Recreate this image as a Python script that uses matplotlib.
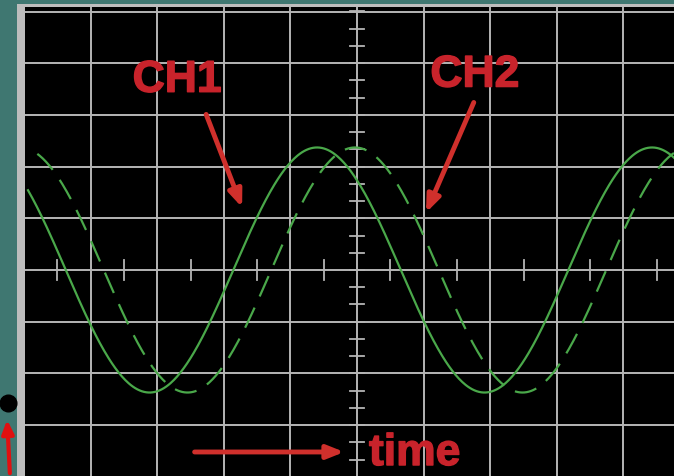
import numpy as np
import matplotlib.pyplot as plt
import matplotlib.patheffects as pe

# screen values, in scope divisions (center = 0,0)
ch1_peak_x = -0.60      # where CH1 (solid) peaks
ch2_peak_x = -0.03      # CH2 (dashed) lags CH1
period = 5.03
amplitude = 2.37
ch1_start = -4.94
ch2_start = -4.80

grid_x = [-4, -3, -2, -1, 0, 1, 2, 3, 4]
grid_y = [-3, -2, -1, 0, 1, 2, 3, 4, 5]

labels = ['CH1', 'CH2', 'time']

W, H = 674, 476
fig = plt.figure(figsize=(W / 100, H / 100), dpi=100)
fig.patch.set_facecolor('#3f7771')

# gray bezel strip at left and top
bez = fig.add_axes([17 / W, 0, 1 - 17 / W, 1 - 4 / H])
bez.set_facecolor('#bdbdbd')
bez.set_xticks([]); bez.set_yticks([])
for s in bez.spines.values():
    s.set_visible(False)

ax = fig.add_axes([25 / W, 0, (W - 25) / W, 1 - 7 / H])
ax.set_facecolor('black')
ax.set_xlim((25 - 357) / 66.6, (674 - 357) / 66.6)
ax.set_ylim((270 - 476) / 51.7, (270 - 7) / 51.7)
ax.set_xticks([]); ax.set_yticks([])
for s in ax.spines.values():
    s.set_visible(False)

gc = '#b5b5b5'
for gx in grid_x:
    ax.axvline(gx, color=gc, lw=1.4, zorder=1)
for gy in grid_y:
    ax.axhline(gy, color=gc, lw=1.4, zorder=1)

# minor ticks on the center cross
for t in np.arange(-4, 5.01, 1 / 3):
    ax.plot([-0.1, 0.1], [t, t], color=gc, lw=1.3, zorder=1)
for t in np.arange(-4.5, 5, 1.0):
    ax.plot([t, t], [-0.19, 0.19], color=gc, lw=1.3, zorder=1)

green = '#4aa84a'
x1 = np.linspace(ch1_start, 5, 600)
ax.plot(x1, amplitude * np.cos(2 * np.pi * (x1 - ch1_peak_x) / period),
        color=green, lw=1.6, zorder=3)
x2 = np.linspace(ch2_start, 5, 600)
ax.plot(x2, amplitude * np.cos(2 * np.pi * (x2 - ch2_peak_x) / period),
        color=green, lw=1.6, dashes=(10, 5.5), zorder=3)

red = '#c8232b'
tf = dict(color=red, fontsize=32, fontweight='bold', family='Liberation Sans', zorder=5,
          path_effects=[pe.withStroke(linewidth=1, foreground=red)])
ax.text(-2.70, 3.67, labels[0], ha='center', va='center', **tf)
ax.text(1.77, 3.77, labels[1], ha='center', va='center', **tf)
ax.text(0.18, -3.55, labels[2], ha='left', va='center', **tf)

ap = dict(arrowstyle='-|>,head_length=1.0,head_width=0.4', color='#d0302c', lw=3.5)
ax.annotate('', xy=(-1.71, 1.16), xytext=(-2.28, 3.06), arrowprops=ap, zorder=5)
ax.annotate('', xy=(1.02, 1.06), xytext=(1.77, 3.29), arrowprops=ap, zorder=5)
ax.annotate('', xy=(-0.15, -3.52), xytext=(-2.48, -3.52), arrowprops=ap, zorder=5)

# marker dot and arrow on the teal margin
ov = fig.add_axes([0, 0, 1, 1])
ov.set_xlim(0, W); ov.set_ylim(H, 0)
ov.axis('off')
ov.patch.set_alpha(0)
ov.plot([8], [403], 'o', color='black', ms=12)
ov.annotate('', xy=(7, 417), xytext=(10, 476),
            arrowprops=dict(arrowstyle='-|>,head_length=0.8,head_width=0.35', color='#e01010', lw=3))

fig.savefig('out.png', dpi=100, facecolor=fig.get_facecolor())
